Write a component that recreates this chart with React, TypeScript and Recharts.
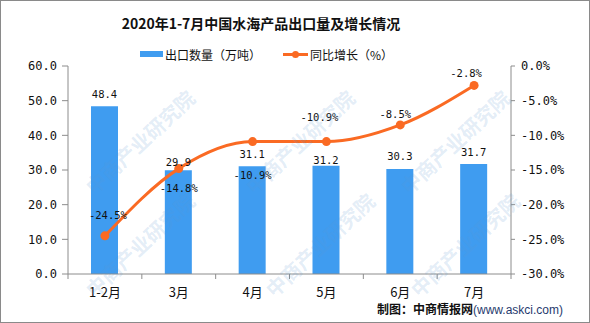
import React from "react";
import { ComposedChart, Bar, Line, XAxis, YAxis, LabelList } from "recharts";

const months = ["1-2月", "3月", "4月", "5月", "6月", "7月"];
const exportVolume = [48.4, 29.9, 31.1, 31.2, 30.3, 31.7];
const yoyGrowth = [-24.5, -14.8, -10.9, -10.9, -8.5, -2.8];
const leftTicks = [0, 10, 20, 30, 40, 50, 60];
const rightTicks = [-30, -25, -20, -15, -10, -5, 0];

// label nudges (px) so the labels sit where the original put them
const lineLabelDx = [3, 0, 0, -7, -5, -8];
const lineLabelDy = [-21, 19, 33, -25, -11, -12];
const barLabelDy = [-12, -8, -12, -6, -13, -12];

const W = 590;
const H = 323;
const LEFT_AXIS_W = 68;
const RIGHT_AXIS_W = 79;
const HALF_BAND = (W - LEFT_AXIS_W - RIGHT_AXIS_W) / months.length / 2;

const BAR_COLOR = "#3f9cf0";
const LINE_COLOR = "#fa6a23";
const AXIS_COLOR = "#8c8c8c";
const MONO = "'DejaVu Sans Mono', monospace";
const CJK = "'Noto Sans CJK SC', sans-serif";

const data = months.map((m, i) => ({
  month: m,
  volume: exportVolume[i],
  growth: yoyGrowth[i],
}));

const MonthTick = (props: any) => {
  const { x, y, payload, index } = props;
  return (
    <g>
      <line x1={x - HALF_BAND} x2={x - HALF_BAND} y1={y} y2={y + 5} stroke={AXIS_COLOR} />
      {index === months.length - 1 && (
        <line x1={x + HALF_BAND} x2={x + HALF_BAND} y1={y} y2={y + 5} stroke={AXIS_COLOR} />
      )}
      <text x={x} y={y + 17} textAnchor="middle" dominantBaseline="central" fontSize={13} fontFamily={CJK} fill="#111">
        {payload.value}
      </text>
    </g>
  );
};

const BarLabel = (props: any) => {
  const { x, y, width, value, index } = props;
  return (
    <text x={x + width / 2} y={y + barLabelDy[index]} textAnchor="middle" dominantBaseline="central" fontSize={10.5} fontFamily={MONO} fill="#111">
      {value.toFixed(1)}
    </text>
  );
};

const LineLabel = (props: any) => {
  const { x, y, value, index } = props;
  return (
    <text x={x + lineLabelDx[index]} y={y + lineLabelDy[index]} textAnchor="middle" dominantBaseline="central" fontSize={10.5} fontFamily={MONO} fill="#111">
      {value.toFixed(1) + "%"}
    </text>
  );
};

const watermarks = [
  [140, 142], [300, 142], [455, 142],
  [140, 245], [320, 245], [465, 245],
];

export default function App() {
  return (
    <div style={{ position: "fixed", left: 0, top: 0, width: W, height: H, background: "#fff", overflow: "hidden" }}>
      <div style={{ position: "absolute", left: 0, top: 13, width: 522, textAlign: "center", fontFamily: CJK, fontWeight: 700, fontSize: 14, lineHeight: "20px", color: "#111" }}>
        2020年1-7月中国水海产品出口量及增长情况
      </div>

      <div style={{ position: "absolute", left: 140, top: 45, height: 18, display: "flex", alignItems: "center", fontFamily: CJK, fontSize: 12, color: "#111" }}>
        <span style={{ display: "inline-block", width: 23, height: 6, background: BAR_COLOR, marginRight: 2 }} />
        <span>出口数量（万吨）</span>
        <span style={{ position: "relative", display: "inline-block", width: 25, height: 10, marginLeft: 22, marginRight: 2 }}>
          <span style={{ position: "absolute", left: 0, top: 4, width: 25, height: 3, background: LINE_COLOR }} />
          <span style={{ position: "absolute", left: 9, top: 2, width: 7, height: 7, borderRadius: "50%", background: LINE_COLOR }} />
        </span>
        <span>同比增长（%）</span>
      </div>

      <ComposedChart
        width={W}
        height={H}
        data={data}
        margin={{ top: 66, right: 0, bottom: 19, left: 0 }}
        style={{ position: "absolute", left: 0, top: 0 }}
      >
        <XAxis
          dataKey="month"
          height={30}
          axisLine={{ stroke: AXIS_COLOR }}
          tickLine={false}
          tickSize={0}
          tickMargin={0}
          tick={<MonthTick />}
          interval={0}
        />
        <YAxis
          yAxisId="left"
          width={LEFT_AXIS_W}
          domain={[0, 60]}
          ticks={leftTicks}
          tickFormatter={(v: number) => v.toFixed(1)}
          axisLine={{ stroke: AXIS_COLOR }}
          tickLine={{ stroke: AXIS_COLOR }}
          tickSize={6}
          tickMargin={5}
          tick={{ fontSize: 12, fontFamily: MONO, fill: "#111" }}
        />
        <YAxis
          yAxisId="right"
          orientation="right"
          width={RIGHT_AXIS_W}
          domain={[-30, 0]}
          ticks={rightTicks}
          tickFormatter={(v: number) => v.toFixed(1) + "%"}
          axisLine={{ stroke: AXIS_COLOR }}
          tickLine={{ stroke: AXIS_COLOR }}
          tickSize={4}
          tickMargin={6}
          tick={{ fontSize: 12, fontFamily: MONO, fill: "#111", textAnchor: "start" }}
        />
        <Bar yAxisId="left" dataKey="volume" fill={BAR_COLOR} barSize={27} isAnimationActive={false}>
          <LabelList dataKey="volume" content={<BarLabel />} />
        </Bar>
        <Line
          yAxisId="right"
          type="monotone"
          dataKey="growth"
          stroke={LINE_COLOR}
          strokeWidth={3}
          dot={{ r: 4.5, fill: LINE_COLOR, stroke: LINE_COLOR, strokeWidth: 0 }}
          isAnimationActive={false}
        >
          <LabelList dataKey="growth" content={<LineLabel />} />
        </Line>
      </ComposedChart>

      <div style={{ position: "absolute", left: 377, top: 301, fontSize: 12, lineHeight: "15px", whiteSpace: "nowrap" }}>
        <span style={{ fontFamily: CJK, fontWeight: 700, color: "#111" }}>制图：中商情报网</span>
        <span style={{ fontFamily: "'Liberation Sans', Arial, sans-serif", color: "#1f3a6e" }}>(www.askci.com)</span>
      </div>

      {watermarks.map(([cx, cy], i) => (
        <div
          key={i}
          style={{
            position: "absolute",
            left: cx - 80,
            top: cy - 12,
            width: 160,
            textAlign: "center",
            transform: "rotate(-43deg)",
            fontFamily: CJK,
            fontWeight: 700,
            fontSize: 20,
            lineHeight: "24px",
            color: "rgba(90,150,210,0.18)",
            pointerEvents: "none",
            whiteSpace: "nowrap",
          }}
        >
          中商产业研究院
        </div>
      ))}

      <div style={{ position: "absolute", left: 0, top: 0, width: W, height: H, boxSizing: "border-box", border: "1px solid #8a8a8a", pointerEvents: "none" }} />
    </div>
  );
}
